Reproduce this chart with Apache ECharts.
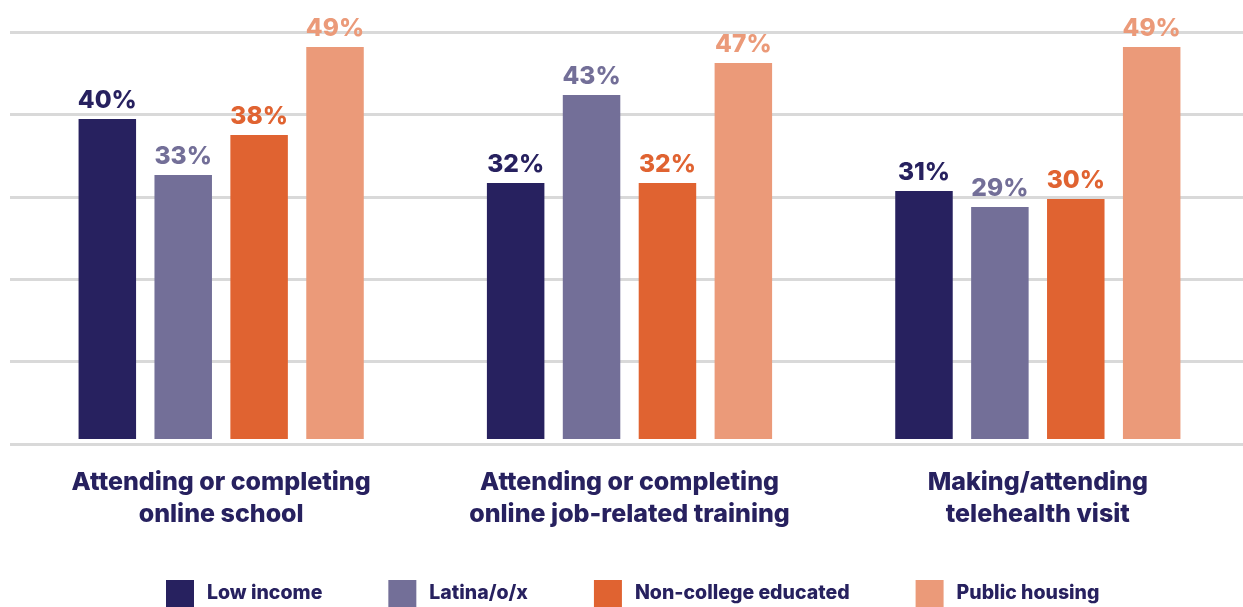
<!DOCTYPE html>
<html>
<head>
<meta charset="utf-8">
<script src="https://cdn.jsdelivr.net/npm/echarts@6/dist/echarts.min.js"></script>
<style>
  html, body { margin: 0; padding: 0; background: #ffffff; }
  #chart { width: 1243px; height: 607px; }
</style>
</head>
<body>
<div id="chart"></div>
<script>
// Categories (activities) and share of respondents per group, in percent
const categories = [
  'Attending or completing\nonline school',
  'Attending or completing\nonline job-related training',
  'Making/attending\ntelehealth visit'
];
const seriesNames = ['Low income', 'Latina/o/x', 'Non-college educated', 'Public housing'];
const lowIncome = [40, 32, 31];
const latinx = [33, 43, 29];
const nonCollege = [38, 32, 30];
const publicHousing = [49, 47, 49];
const gridTicks = [0, 10, 20, 30, 40, 50];

const colors = ['#27215f', '#736f98', '#e06331', '#eb9a79'];
const navy = '#27215f';
const FONT = 'Inter';

const values = [lowIncome, latinx, nonCollege, publicHousing];

const chart = echarts.init(document.getElementById('chart'), null, { renderer: 'canvas' });

const barSeries = seriesNames.map((name, i) => ({
  name: name,
  type: 'bar',
  xAxisIndex: 1,
  yAxisIndex: 1,
  data: values[i],
  barWidth: 57.5,
  barGap: '32%',
  itemStyle: { color: colors[i] },
  label: {
    show: true,
    position: 'top',
    distance: 6,
    formatter: '{c}%',
    color: colors[i],
    fontFamily: FONT,
    fontWeight: 800,
    fontSize: 24.5
  }
}));

chart.setOption({
  animation: false,
  color: colors,
  textStyle: { fontFamily: FONT },
  grid: [
    // background gridlines
    { left: 10, right: 0, top: 32, bottom: 163 },
    // bars
    { left: 17, right: 1, top: 39, bottom: 168 }
  ],
  legend: {
    data: seriesNames,
    left: 161,
    top: 575,
    itemWidth: 28,
    itemHeight: 27,
    itemGap: 66,
    icon: 'rect',
    selectedMode: false,
    textStyle: {
      color: navy,
      fontFamily: FONT,
      fontWeight: 800,
      fontSize: 19.5,
      padding: [0, 0, 0, 8]
    }
  },
  xAxis: [
    {
      gridIndex: 0,
      type: 'category',
      data: categories,
      show: false
    },
    {
      gridIndex: 1,
      type: 'category',
      data: categories,
      axisLine: { show: false },
      axisTick: { show: false },
      axisLabel: {
        margin: 27,
        color: navy,
        fontFamily: FONT,
        fontWeight: 800,
        fontSize: 25,
        lineHeight: 32,
        interval: 0
      }
    }
  ],
  yAxis: [
    {
      gridIndex: 0,
      type: 'value',
      min: gridTicks[0],
      max: gridTicks[gridTicks.length - 1],
      interval: 10,
      axisLabel: { show: false },
      axisLine: { show: false },
      axisTick: { show: false },
      splitLine: { show: true, lineStyle: { color: '#d9d9d9', width: 3 } }
    },
    {
      gridIndex: 1,
      type: 'value',
      min: 0,
      max: 50,
      show: false,
      splitLine: { show: false }
    }
  ],
  series: barSeries
});
</script>
</body>
</html>
